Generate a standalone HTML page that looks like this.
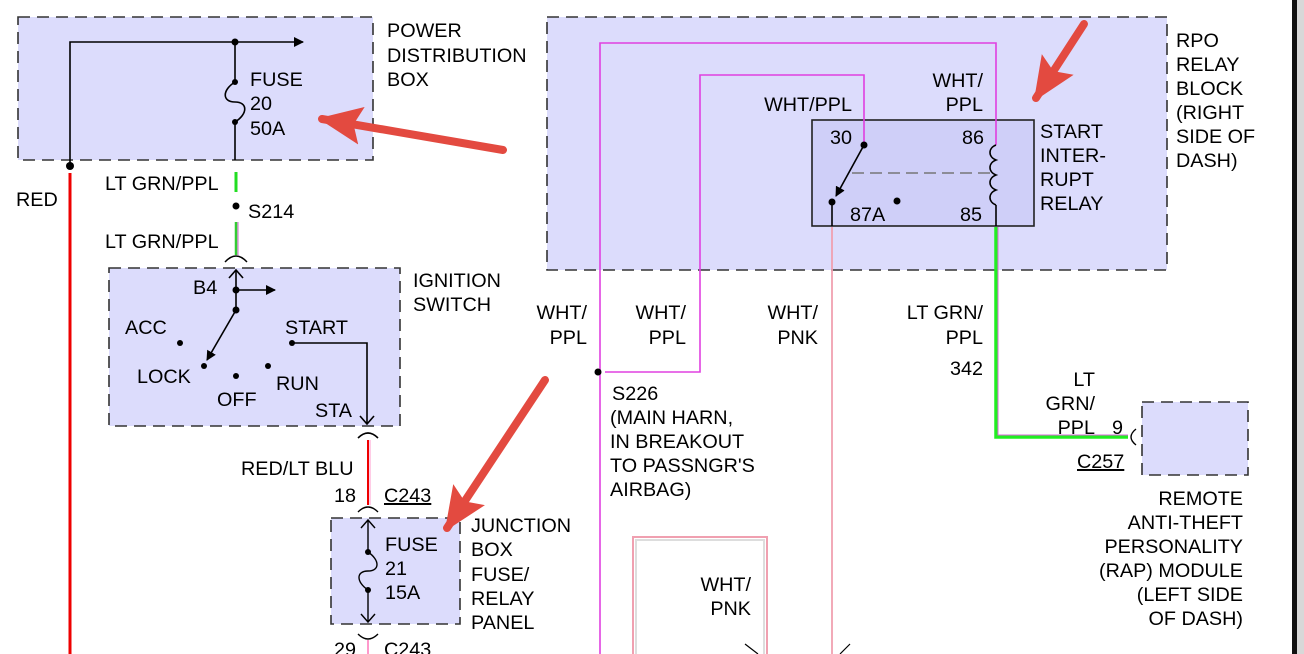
<!DOCTYPE html>
<html><head><meta charset="utf-8"><style>
html,body{margin:0;padding:0;background:#fff;}
svg{display:block;font-family:"Liberation Sans",sans-serif;font-size:19.8px;}
</style></head><body>
<svg width="1304" height="654" viewBox="0 0 1304 654" xmlns="http://www.w3.org/2000/svg">
<defs>
<marker id="ah" markerWidth="10" markerHeight="10" refX="9" refY="5" orient="auto" markerUnits="userSpaceOnUse"><path d="M0,0 L10,5 L0,10 z" fill="#000"/></marker>
<marker id="ra" markerWidth="44" markerHeight="38" refX="40" refY="19" orient="auto" markerUnits="userSpaceOnUse"><path d="M0,0 L44,19 L0,38 L8,19 z" fill="#e34a40"/></marker>
</defs>
<rect width="1304" height="654" fill="#fff"/>
<g fill="#dcdcfc" stroke="#333" stroke-width="1.6" stroke-dasharray="12,7">
<rect x="18" y="17" width="355" height="143"/>
<rect x="109" y="268" width="291" height="158"/>
<rect x="331" y="518" width="129" height="106"/>
<rect x="547" y="17" width="620" height="253"/>
<rect x="1142" y="402" width="106" height="73"/>
</g>
<rect x="812" y="120" width="222" height="106" fill="#cfcff8" stroke="#222" stroke-width="1.6"/>
<rect x="1292" y="0" width="5" height="654" fill="#111"/>
<rect x="1297" y="0" width="7" height="654" fill="#d8d8d8"/>
<g stroke="#000" stroke-width="1.6" fill="none">
<polyline points="70,166 70,42 303,42" marker-end="url(#ah)"/>
<line x1="235" y1="42" x2="235" y2="82"/>
<path d="M235,82 C222,90 222,102 235,102 C248,102 248,114 235,122"/>
<line x1="235" y1="122" x2="235" y2="160"/>
</g>
<circle cx="235" cy="42" r="3.5"/><circle cx="235" cy="82" r="3"/><circle cx="235" cy="122" r="3"/>
<circle cx="70" cy="166" r="4"/>
<line x1="70" y1="173" x2="70" y2="654" stroke="#e00" stroke-width="3"/>
<line x1="236" y1="172" x2="236" y2="192" stroke="#2d2" stroke-width="3"/>
<circle cx="236" cy="206" r="3.5"/>
<line x1="236" y1="222" x2="236" y2="255" stroke="#3c3" stroke-width="2.5"/>
<line x1="238" y1="222" x2="238" y2="255" stroke="#c6c" stroke-width="1"/>
<path d="M225,262 Q236,250 247,262" stroke="#000" stroke-width="1.4" fill="none"/>
<g stroke="#000" stroke-width="1.6" fill="none">
<line x1="236" y1="310" x2="236" y2="270"/>
<polyline points="229,278 236,270 243,278"/>
<line x1="236" y1="290" x2="275" y2="290" marker-end="url(#ah)"/>
<line x1="236" y1="310" x2="207" y2="360" marker-end="url(#ah)"/>
<polyline points="292,343 367,343 367,424"/>
<polyline points="360,416 367,424 374,416"/>
<path d="M358,438 Q368,428 378,438"/>
</g>
<g fill="#000"><circle cx="236" cy="290" r="3.5"/><circle cx="236" cy="310" r="3.5"/>
<circle cx="180" cy="343" r="3"/><circle cx="204" cy="366" r="3"/><circle cx="236" cy="376" r="3"/><circle cx="268" cy="366" r="3"/><circle cx="292" cy="343" r="3"/></g>
<line x1="368" y1="440" x2="368" y2="505" stroke="#e00" stroke-width="2"/>
<line x1="370" y1="440" x2="370" y2="505" stroke="#f9c" stroke-width="1"/>
<path d="M358,512 Q368,502 378,512" stroke="#000" stroke-width="1.4" fill="none"/>
<g stroke="#000" stroke-width="1.4" fill="none">
<line x1="368" y1="520" x2="368" y2="552"/>
<polyline points="361,528 368,520 375,528"/>
<path d="M368,552 C380,560 380,571 368,571 C356,571 356,582 368,590"/>
<line x1="368" y1="590" x2="368" y2="622"/>
<polyline points="361,614 368,622 375,614"/>
<path d="M358,634 Q368,644 378,634"/>
</g>
<circle cx="368" cy="552" r="3"/><circle cx="368" cy="590" r="3"/>
<line x1="368" y1="640" x2="368" y2="654" stroke="#f9c" stroke-width="2"/>
<g stroke="#e040e0" stroke-width="1.6" fill="none">
<polyline points="600,654 600,43 996,43 996,145"/>
<polyline points="605,372 700,372 700,75 864,75 864,145"/>
</g>
<circle cx="598" cy="372" r="3.5"/>
<g stroke="#000" stroke-width="1.6" fill="none">
<line x1="864" y1="145" x2="836" y2="196" marker-end="url(#ah)"/>
<path d="M996,145 c-8,3 -8,12 0,15 c-8,3 -8,12 0,15 c-8,3 -8,12 0,15 c-8,3 -8,12 0,15"/>
<line x1="996" y1="205" x2="996" y2="226"/>
<line x1="832" y1="202" x2="832" y2="226"/>
</g>
<line x1="852" y1="173" x2="990" y2="173" stroke="#777" stroke-width="1.6" stroke-dasharray="12,6"/>
<circle cx="864" cy="145" r="3.5"/><circle cx="832" cy="202" r="3.5"/><circle cx="897" cy="201" r="3.5"/>
<line x1="832" y1="227" x2="832" y2="654" stroke="#f0a0b0" stroke-width="1.8"/>
<polyline points="996,227 996,437 1128,437" stroke="#2e2" stroke-width="3.5" fill="none"/>
<polyline points="998,227 998,435 1128,435" stroke="#d6d" stroke-width="1" fill="none"/>
<path d="M1136,429 Q1126,437 1136,445" stroke="#000" stroke-width="1.4" fill="none"/>
<polyline points="633,654 633,537 767,537 767,654" stroke="#f0a0b0" stroke-width="2" fill="none"/>
<polyline points="636,654 636,540 764,540 764,654" stroke="#ddd" stroke-width="2" fill="none"/>
<path d="M745,644 L758,654 M850,644 L840,654" stroke="#000" stroke-width="1.2"/>
<g fill="#000">
<text x="387" y="37">POWER</text><text x="387" y="62">DISTRIBUTION</text><text x="387" y="86">BOX</text>
<text x="250" y="86">FUSE</text><text x="250" y="110">20</text><text x="250" y="135">50A</text>
<text x="16" y="206">RED</text>
<text x="105" y="190">LT GRN/PPL</text>
<text x="248" y="218">S214</text>
<text x="105" y="248">LT GRN/PPL</text>
<text x="413" y="287">IGNITION</text><text x="413" y="311">SWITCH</text>
<text x="193" y="294">B4</text>
<text x="125" y="334">ACC</text><text x="285" y="334">START</text>
<text x="137" y="383">LOCK</text><text x="276" y="390">RUN</text>
<text x="217" y="406">OFF</text><text x="315" y="417">STA</text>
<text x="241" y="475">RED/LT BLU</text>
<text x="334" y="502">18</text>
<text x="384" y="502" text-decoration="underline">C243</text>
<text x="471" y="532">JUNCTION</text><text x="471" y="556">BOX</text><text x="471" y="581">FUSE/</text><text x="471" y="605">RELAY</text><text x="471" y="629">PANEL</text>
<text x="385" y="551">FUSE</text><text x="385" y="575">21</text><text x="385" y="599">15A</text>
<text x="334" y="656">29</text><text x="384" y="656">C243</text>
<text x="1176" y="47">RPO</text><text x="1176" y="71">RELAY</text><text x="1176" y="95">BLOCK</text><text x="1176" y="119">(RIGHT</text><text x="1176" y="143">SIDE OF</text><text x="1176" y="167">DASH)</text>
<text x="983" y="87" text-anchor="end">WHT/</text><text x="983" y="111" text-anchor="end">PPL</text>
<text x="852" y="111" text-anchor="end">WHT/PPL</text>
<text x="830" y="144">30</text><text x="962" y="144">86</text>
<text x="850" y="221">87A</text><text x="960" y="221">85</text>
<text x="1040" y="138">START</text><text x="1040" y="162">INTER-</text><text x="1040" y="186">RUPT</text><text x="1040" y="210">RELAY</text>
<text x="587" y="319" text-anchor="end">WHT/</text><text x="587" y="344" text-anchor="end">PPL</text>
<text x="686" y="319" text-anchor="end">WHT/</text><text x="686" y="344" text-anchor="end">PPL</text>
<text x="818" y="319" text-anchor="end">WHT/</text><text x="818" y="344" text-anchor="end">PNK</text>
<text x="983" y="319" text-anchor="end">LT GRN/</text><text x="983" y="344" text-anchor="end">PPL</text>
<text x="983" y="375" text-anchor="end">342</text>
<text x="612" y="400">S226</text><text x="610" y="424">(MAIN HARN,</text><text x="610" y="448">IN BREAKOUT</text><text x="610" y="472">TO PASSNGR'S</text><text x="610" y="496">AIRBAG)</text>
<text x="1095" y="386" text-anchor="end">LT</text><text x="1095" y="410" text-anchor="end">GRN/</text><text x="1095" y="434" text-anchor="end">PPL</text>
<text x="1112" y="434">9</text>
<text x="1077" y="468" text-decoration="underline">C257</text>
<text x="1243" y="505" text-anchor="end">REMOTE</text><text x="1243" y="529" text-anchor="end">ANTI-THEFT</text><text x="1243" y="553" text-anchor="end">PERSONALITY</text><text x="1243" y="577" text-anchor="end">(RAP) MODULE</text><text x="1243" y="601" text-anchor="end">(LEFT SIDE</text><text x="1243" y="625" text-anchor="end">OF DASH)</text>
<text x="751" y="591" text-anchor="end">WHT/</text><text x="751" y="615" text-anchor="end">PNK</text>
</g>
<g stroke="#e34a40" stroke-width="8" stroke-linecap="round" fill="none">
<line x1="503" y1="150" x2="322" y2="119" marker-end="url(#ra)"/>
<line x1="1084" y1="24" x2="1036" y2="98" marker-end="url(#ra)"/>
<line x1="545" y1="380" x2="447" y2="528" marker-end="url(#ra)"/>
</g>
</svg>
</body></html>
